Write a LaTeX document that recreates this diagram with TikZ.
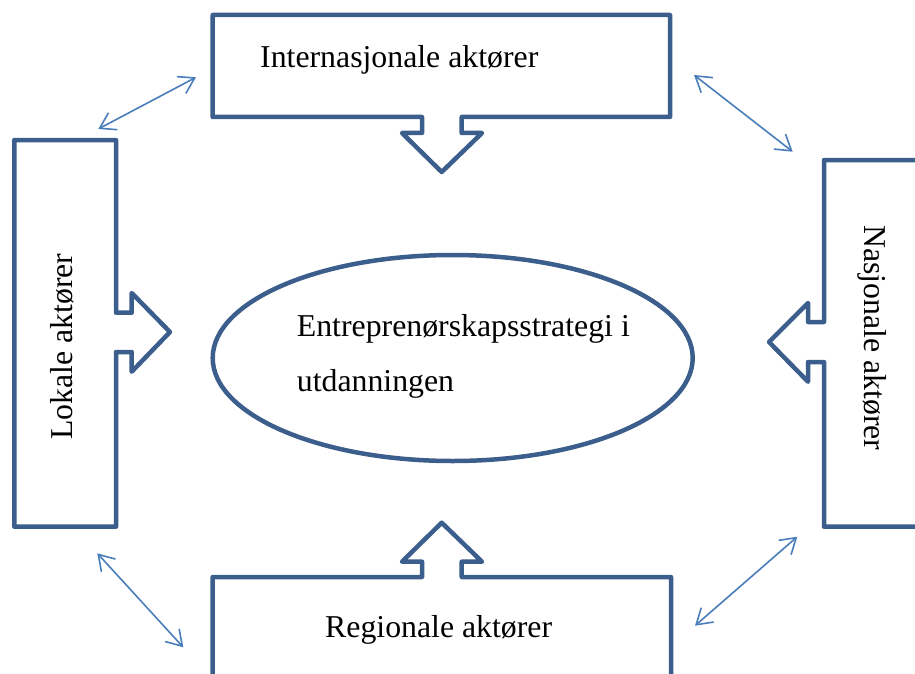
\documentclass[tikz,border=0pt]{standalone}
\usepackage{fontspec}
\setmainfont{Liberation Serif}
\usetikzlibrary{shapes.geometric,arrows.meta}
\definecolor{boxblue}{HTML}{3B5E8C}
\definecolor{linkblue}{HTML}{4A7EBB}
\tikzset{
  callout/.style={draw=boxblue, line width=4.5pt, line join=round, fill=white},
  lbl/.style={font=\fontsize{31.8}{38}\selectfont, inner sep=0pt, text=black},
  link/.style={draw=linkblue, line width=1.6pt, {Straight Barb[length=15pt,width=19pt,line width=1.6pt]}-{Straight Barb[length=15pt,width=19pt,line width=1.6pt]}}
}
\begin{document}
\begin{tikzpicture}[x=1pt,y=-1pt]
\useasboundingbox (0,0) rectangle (915,674);
\clip (0,0) rectangle (915,674);
% top callout
\draw[callout] (212.7,15) -- (670,15) -- (670,117) -- (461.7,117) -- (461.7,133) -- (482,133) -- (441.7,172) -- (402,133) -- (422,133) -- (422,117) -- (212.7,117) -- cycle;
% left callout
\draw[callout] (14.3,140) -- (116,140) -- (116,312.7) -- (131.7,312.7) -- (131.7,293) -- (170,332) -- (131.7,371.7) -- (131.7,352) -- (116,352) -- (116,526.7) -- (14.3,526.7) -- cycle;
% right callout
\draw[callout] (930,160) -- (824,160) -- (824,322) -- (808,322) -- (808,303) -- (769,342) -- (808,381.7) -- (808,362) -- (824,362) -- (824,526.7) -- (930,526.7);
% bottom callout
\draw[callout] (212.7,690) -- (212.7,577) -- (422,577) -- (422,561.7) -- (402,561.7) -- (441.7,522.7) -- (482,561.7) -- (461.7,561.7) -- (461.7,577) -- (671,577) -- (671,690);
% ellipse
\node[ellipse, draw=boxblue, line width=4.5pt, minimum width=480pt, minimum height=206pt, inner sep=0pt] (center) at (452.7,358) {};
% labels
\node[lbl, anchor=base west] (intl) at (260,68) {Internasjonale aktører};
\node[lbl, anchor=base west] (reg) at (325,637) {Regionale aktører};
\node[lbl, anchor=base west, rotate=90] (lok) at (72.7,440) {Lokale aktører};
\node[lbl, anchor=base west, rotate=-90] (nas) at (864,225) {Nasjonale aktører};
\node[lbl, anchor=base west] (c1) at (296.7,336.7) {Entreprenørskapsstrategi i};
\node[lbl, anchor=base west] (c2) at (296.7,391.7) {utdanningen};
% double arrows
\coordinate (a1s) at (196,77.3);
\coordinate (a1e) at (98.3,129);
\coordinate (a2s) at (694,75);
\coordinate (a2e) at (792.7,151.7);
\coordinate (a3s) at (97.3,553.3);
\coordinate (a3e) at (183.3,647.3);
\coordinate (a4s) at (797.3,536.7);
\coordinate (a4e) at (695,625.7);
\draw[link] (a1s) -- (a1e);
\draw[link] (a2s) -- (a2e);
\draw[link] (a3s) -- (a3e);
\draw[link] (a4s) -- (a4e);
\end{tikzpicture}
\end{document}
